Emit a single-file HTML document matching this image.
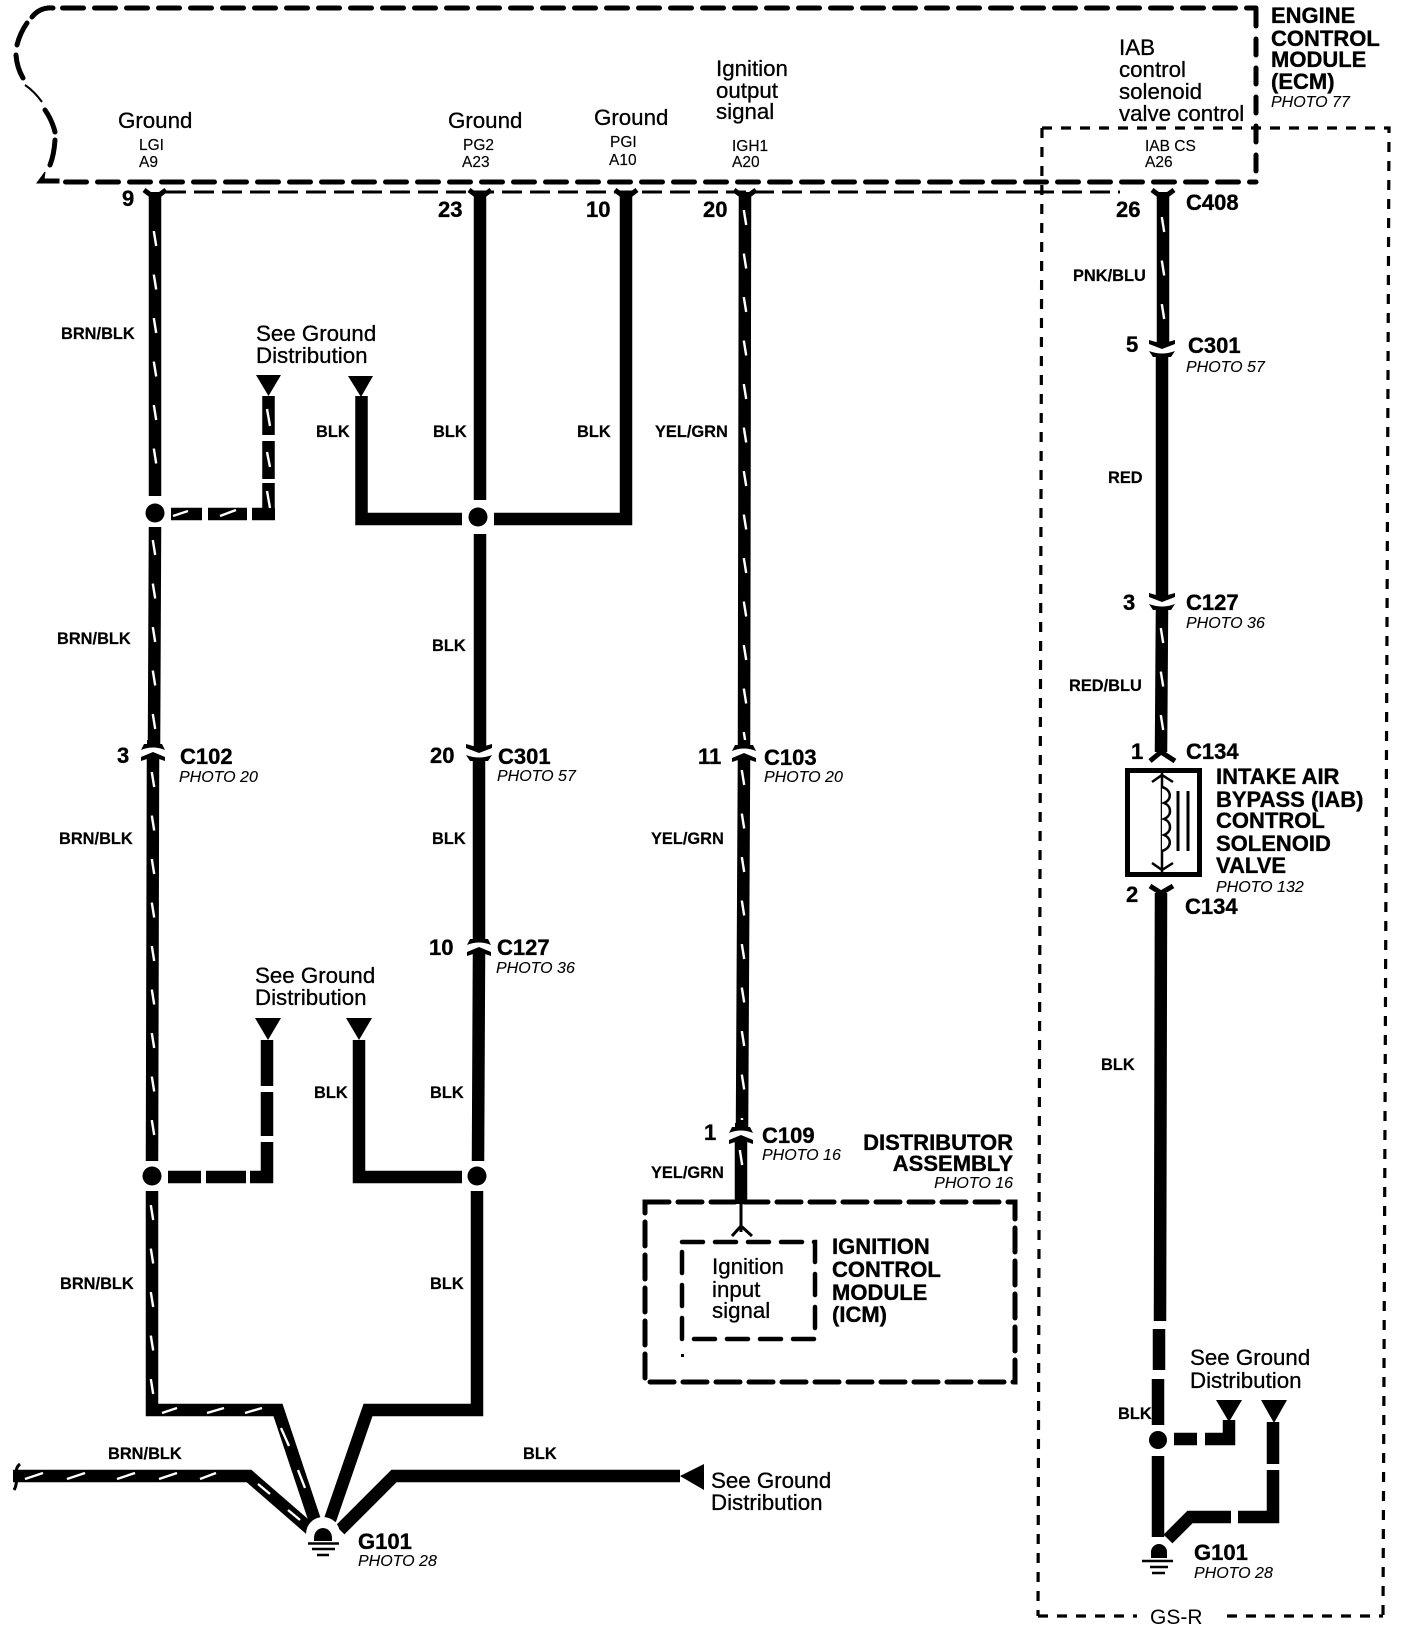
<!DOCTYPE html>
<html><head><meta charset="utf-8"><style>
html,body{margin:0;padding:0;background:#fff}
svg{display:block}
text{font-family:"Liberation Sans",sans-serif;fill:#000}
.r{font-size:22.300px;stroke:#000;stroke-width:.3}
.s{font-size:15.5px;stroke:#000;stroke-width:.15}
.b{font-size:22px;font-weight:700;stroke:#000;stroke-width:.35}
.w{font-size:16.4px;font-weight:700;stroke:#000;stroke-width:.2}
.p{font-size:16px;font-style:italic;stroke:#000;stroke-width:.1}
.e{text-anchor:end}
.wire{fill:none;stroke:#000;stroke-width:12.5;stroke-linejoin:miter}
.st{fill:none;stroke:#fff;stroke-width:2.4}
.c{fill:none;stroke:#000;stroke-width:5}
.d5{fill:none;stroke:#000;stroke-width:5;stroke-linecap:round}
</style></head><body>
<svg width="1408" height="1630" viewBox="0 0 1408 1630" xmlns="http://www.w3.org/2000/svg">
<defs>
<pattern id="sv" patternUnits="userSpaceOnUse" x="-10" y="0" width="20" height="43.5">
<line x1="8.8" y1="0" x2="11.2" y2="15" stroke="#fff" stroke-width="2.4"/>
</pattern>
<path id="dn" d="M-13 -9L-13 -5L0 0L13 -5L13 -9L6 -7H-6ZM-13 2Q0 7 13 2L9 8L6 8V12H-6V8L-9 8Z"/>
<path id="up" d="M-12 9L-12 5L0 0L12 5L12 9L6 7H-6ZM-12 -2Q0 -7 12 -2L9 -8L6 -8V-12H-6V-8L-9 -8Z"/>
<path id="y" class="c" d="M-11 0L0 8L11 0"/>
</defs>

<!-- ECM box -->
<path class="d5" d="M53 8Q40 7 32 17M27 23Q20 33 17 45M16 55Q17 68 23 78M45 110Q52 120 55 132M55 140Q54 155 50 165"/>
<path d="M25 85Q34 91 42 102" fill="none" stroke="#000" stroke-width="2"/>
<path d="M45 172L37 183H59V179H44Z" stroke="#000" stroke-width="1"/>
<path class="d5" d="M65.500 182H1256" stroke-dasharray="21 11"/>
<path class="d5" d="M62.500 8H1256" stroke-dasharray="21 11"/>
<path class="d5" d="M1256 10V182" stroke-dasharray="16 13"/>
<!-- thin dashed under ECM -->
<path d="M166 192H1120" fill="none" stroke="#000" stroke-width="3" stroke-dasharray="20 8"/>
<!-- IAB dashed box -->
<path d="M1042 128H1389L1383 1616M1042 128L1038 1616M1038 1616H1137M1227 1616H1383" fill="none" stroke="#000" stroke-width="3.2" stroke-dasharray="10 9"/>

<!-- W1 -->
<path class="wire" d="M155 192L155 496"/>
<path class="wire" d="M155 527L154 746M153 758L152 1161"/>
<path class="wire" d="M152 1191V1410H278L315 1521"/>
<circle cx="155" cy="513" r="9.5"/><circle cx="152" cy="1176" r="9.5"/>
<rect transform="translate(155,231)" x="-6" y="0" width="12" height="240" fill="url(#sv)"/>
<rect transform="translate(154,540)" x="-6" y="0" width="12" height="200" fill="url(#sv)"/>
<rect transform="translate(153,772)" x="-6" y="0" width="12" height="385" fill="url(#sv)"/>
<rect transform="translate(152,1205)" x="-6" y="0" width="12" height="190" fill="url(#sv)"/>
<path class="st" d="M162 1413L177 1408M207 1413L224 1408M245 1413L262 1408M281 1428L289 1446M298 1470L305 1488"/>
<!-- W1 branch top -->
<path d="M256 375H281L268.5 396Z"/>
<path class="wire" d="M268.5 396V435M268.5 441V479M268.5 483V520M252 514H275M208 514H247M171 514H202"/>
<path class="st" d="M267 409L270 426M267 452L270 467M267 491L270 508M173 516L188 511M220 516L236 510"/>
<!-- W1 branch bottom -->
<path d="M255 1018H281L268 1040Z"/>
<path class="wire" d="M267 1040V1086M267 1092V1136M267 1142V1183M250 1177H273M206 1177H246M168 1177H201"/>

<!-- W2 -->
<path class="wire" d="M480 192V500M480 534L480 747M479 759V941M479 953L478 1161M477 1191V1410H368L330 1520"/>
<circle cx="478" cy="517" r="9.5"/><circle cx="477" cy="1176" r="9.5"/>
<!-- W3 -->
<path class="wire" d="M626 192V519H494"/>
<path class="wire" d="M462 519H361.500V396"/>
<path d="M348 376H373L361 397Z"/>
<path class="wire" d="M359 1040V1177H462"/>
<path d="M346 1018H372L359 1040Z"/>

<!-- W4 -->
<path class="wire" d="M745 192L744 747M744 759L742 1129M741 1141V1204"/>
<rect transform="translate(745,210)" x="-6" y="0" width="12" height="530" fill="url(#sv)"/>
<rect transform="translate(743,770)" x="-6" y="0" width="12" height="350" fill="url(#sv)"/>
<rect transform="translate(741,1150)" x="-6" y="0" width="12" height="30" fill="url(#sv)"/>
<path d="M741 1204V1232M732 1236L741 1226L752 1236" fill="none" stroke="#000" stroke-width="3"/>

<!-- Connectors -->
<use href="#y" x="155" y="190"/><use href="#y" x="480" y="190"/><use href="#y" x="626" y="190"/><use href="#y" x="745" y="190"/><use href="#y" x="1163" y="190"/>
<use href="#up" x="153" y="752"/><use href="#dn" x="479" y="753"/><use href="#up" x="744" y="753"/>
<use href="#up" x="479" y="947"/><use href="#up" x="741" y="1135"/>
<use href="#dn" x="1162" y="349"/><use href="#dn" x="1162" y="602"/>

<!-- Right wire -->
<path class="wire" d="M1163 192V343M1162 355V596M1162 608L1161 752"/>
<rect transform="translate(1163,217)" x="-6" y="0" width="12" height="115" fill="url(#sv)"/>
<rect transform="translate(1162,628)" x="-6" y="0" width="12" height="110" fill="url(#sv)"/>
<path class="c" d="M1150 761L1161 752L1175 761"/>
<rect x="1127.500" y="770.500" width="72" height="104" fill="#fff" stroke="#000" stroke-width="5"/>
<path d="M1162 770V874M1152 782L1162 775L1173 782M1152 863L1162 870L1173 863" fill="none" stroke="#000" stroke-width="2.5"/>
<path d="M1162 787C1172 790 1172 800 1164 803C1172 806 1172 816 1164 819C1172 822 1172 832 1164 835C1172 838 1172 848 1162 851" fill="#fff" stroke="#000" stroke-width="2.5"/>
<path d="M1178 791V851M1188 791V851" stroke="#000" stroke-width="3"/>
<path class="c" d="M1150 886L1161 893L1173 886"/>
<path class="wire" d="M1161 893L1160 1321M1159 1329V1370M1158 1379V1425M1158 1456V1537"/>
<circle cx="1158" cy="1440" r="9"/>
<path class="wire" d="M1174 1439H1197M1205 1439H1229V1420"/>
<path d="M1216 1400H1242L1229 1422Z"/>
<path d="M1261 1400H1287L1274 1423Z"/>
<path class="wire" d="M1273 1422V1464M1273 1470V1517H1238M1231 1517H1190L1168 1539"/>
<path d="M1151 1552A8 8 0 0 1 1167 1552V1558H1151Z"/>
<path d="M1142 1561H1173M1150 1567H1168M1152 1573H1165" stroke="#000" stroke-width="2.6"/>

<!-- Bottom left -->
<path class="wire" d="M13 1476H249L310 1529"/>
<path d="M20 1464C12 1470 20 1480 14 1490" fill="none" stroke="#000" stroke-width="3"/>
<path class="st" d="M25 1479L43 1473M67 1479L85 1473M117 1479L135 1473M159 1479L177 1473M200 1479L216 1473M258 1484L270 1494M288 1510L300 1520"/>
<path class="wire" d="M680 1476H394L340 1530"/>
<path d="M704 1464V1490L680 1476Z"/>
<circle cx="323" cy="1534" r="17" fill="#fff"/>
<path d="M314 1538A9 10 0 0 1 332 1538V1541H314Z"/>
<path d="M308 1543.500H339M312 1549H335M317 1555H329" stroke="#000" stroke-width="2.6"/>

<!-- Distributor boxes -->
<path class="d5" d="M645 1202H1015V1382H645Z" stroke-dasharray="24 9"/>
<path d="M682 1242H815V1339H682Z" fill="none" stroke="#000" stroke-width="4.5" stroke-linecap="round" stroke-dasharray="21 12"/>
<rect x="681" y="1354" width="3" height="3"/>
<path d="M741 1200V1232" stroke="#000" stroke-width="3"/>

<!-- Text -->
<text class="r" x="118" y="128">Ground</text>
<text class="r" x="448" y="128">Ground</text>
<text class="r" x="594" y="125">Ground</text>
<text class="s" x="139" y="150">LGI</text><text class="s" x="139" y="167">A9</text>
<text class="s" x="463" y="150">PG2</text><text class="s" x="462" y="167">A23</text>
<text class="s" x="610" y="147">PGI</text><text class="s" x="609" y="165">A10</text>
<text class="s" x="732" y="151">IGH1</text><text class="s" x="732" y="167">A20</text>
<text class="s" x="1145" y="151">IAB CS</text><text class="s" x="1145" y="167">A26</text>
<text class="r" x="716" y="76">Ignition</text><text class="r" x="716" y="98">output</text><text class="r" x="716" y="119">signal</text>
<text class="r" x="1119" y="55">IAB</text><text class="r" x="1119" y="77">control</text><text class="r" x="1119" y="99">solenoid</text><text class="r" x="1119" y="121">valve control</text>
<text class="b" x="1271" y="23">ENGINE</text><text class="b" x="1271" y="46">CONTROL</text><text class="b" x="1271" y="67">MODULE</text><text class="b" x="1271" y="89">(ECM)</text>
<text class="p" x="1271" y="107">PHOTO 77</text>

<text class="b" x="122" y="206">9</text><text class="b" x="438" y="217">23</text><text class="b" x="586" y="217">10</text><text class="b" x="703" y="217">20</text><text class="b" x="1116" y="217">26</text>
<text class="b" x="1186" y="210">C408</text>
<text class="w" x="61" y="339">BRN/BLK</text>
<text class="r" x="256" y="341">See Ground</text><text class="r" x="256" y="363">Distribution</text>
<text class="w" x="316" y="437">BLK</text><text class="w" x="433" y="437">BLK</text><text class="w" x="577" y="437">BLK</text><text class="w" x="655" y="437">YEL/GRN</text>
<text class="w" x="1073" y="281">PNK/BLU</text>
<text class="b" x="1126" y="352">5</text><text class="b" x="1188" y="353">C301</text><text class="p" x="1186" y="372">PHOTO 57</text>
<text class="w" x="1108" y="483">RED</text>
<text class="b" x="1123" y="610">3</text><text class="b" x="1186" y="610">C127</text><text class="p" x="1186" y="628">PHOTO 36</text>
<text class="w" x="1069" y="691">RED/BLU</text>
<text class="w" x="57" y="644">BRN/BLK</text><text class="w" x="432" y="651">BLK</text>
<text class="b" x="117" y="763">3</text><text class="b" x="180" y="764">C102</text><text class="p" x="179" y="782">PHOTO 20</text>
<text class="b" x="430" y="763">20</text><text class="b" x="498" y="764">C301</text><text class="p" x="497" y="781">PHOTO 57</text>
<text class="b" x="698" y="764">11</text><text class="b" x="764" y="765">C103</text><text class="p" x="764" y="782">PHOTO 20</text>
<text class="w" x="59" y="844">BRN/BLK</text><text class="w" x="432" y="844">BLK</text><text class="w" x="651" y="844">YEL/GRN</text>
<text class="b" x="429" y="955">10</text><text class="b" x="497" y="955">C127</text><text class="p" x="496" y="973">PHOTO 36</text>
<text class="r" x="255" y="983">See Ground</text><text class="r" x="255" y="1005">Distribution</text>
<text class="w" x="314" y="1098">BLK</text><text class="w" x="430" y="1098">BLK</text>
<text class="b" x="704" y="1140">1</text><text class="b" x="762" y="1143">C109</text><text class="p" x="762" y="1160">PHOTO 16</text>
<text class="b e" x="1013" y="1150">DISTRIBUTOR</text><text class="b e" x="1013" y="1171">ASSEMBLY</text><text class="p e" x="1013" y="1188">PHOTO 16</text>
<text class="w" x="651" y="1178">YEL/GRN</text>
<text class="b" x="832" y="1254">IGNITION</text><text class="b" x="832" y="1277">CONTROL</text><text class="b" x="832" y="1300">MODULE</text><text class="b" x="832" y="1322">(ICM)</text>
<text class="r" x="712" y="1274">Ignition</text><text class="r" x="712" y="1297">input</text><text class="r" x="712" y="1318">signal</text>
<text class="w" x="60" y="1289">BRN/BLK</text><text class="w" x="430" y="1289">BLK</text>
<text class="w" x="108" y="1459">BRN/BLK</text><text class="w" x="523" y="1459">BLK</text>
<text class="b" x="358" y="1549">G101</text><text class="p" x="358" y="1566">PHOTO 28</text>
<text class="r" x="711" y="1488">See Ground</text><text class="r" x="711" y="1510">Distribution</text>
<text class="b" x="1131" y="759">1</text><text class="b" x="1186" y="759">C134</text>
<text class="b" x="1216" y="784">INTAKE AIR</text><text class="b" x="1216" y="807">BYPASS (IAB)</text><text class="b" x="1216" y="828">CONTROL</text><text class="b" x="1216" y="851">SOLENOID</text><text class="b" x="1216" y="873">VALVE</text>
<text class="p" x="1216" y="892">PHOTO 132</text>
<text class="b" x="1126" y="902">2</text><text class="b" x="1185" y="914">C134</text>
<text class="w" x="1101" y="1070">BLK</text><text class="w" x="1118" y="1419">BLK</text>
<text class="r" x="1190" y="1365">See Ground</text><text class="r" x="1190" y="1388">Distribution</text>
<text class="b" x="1194" y="1560">G101</text><text class="p" x="1194" y="1578">PHOTO 28</text>
<text x="1150" y="1624" style="font-size:21px">GS-R</text>
</svg>
</body></html>
